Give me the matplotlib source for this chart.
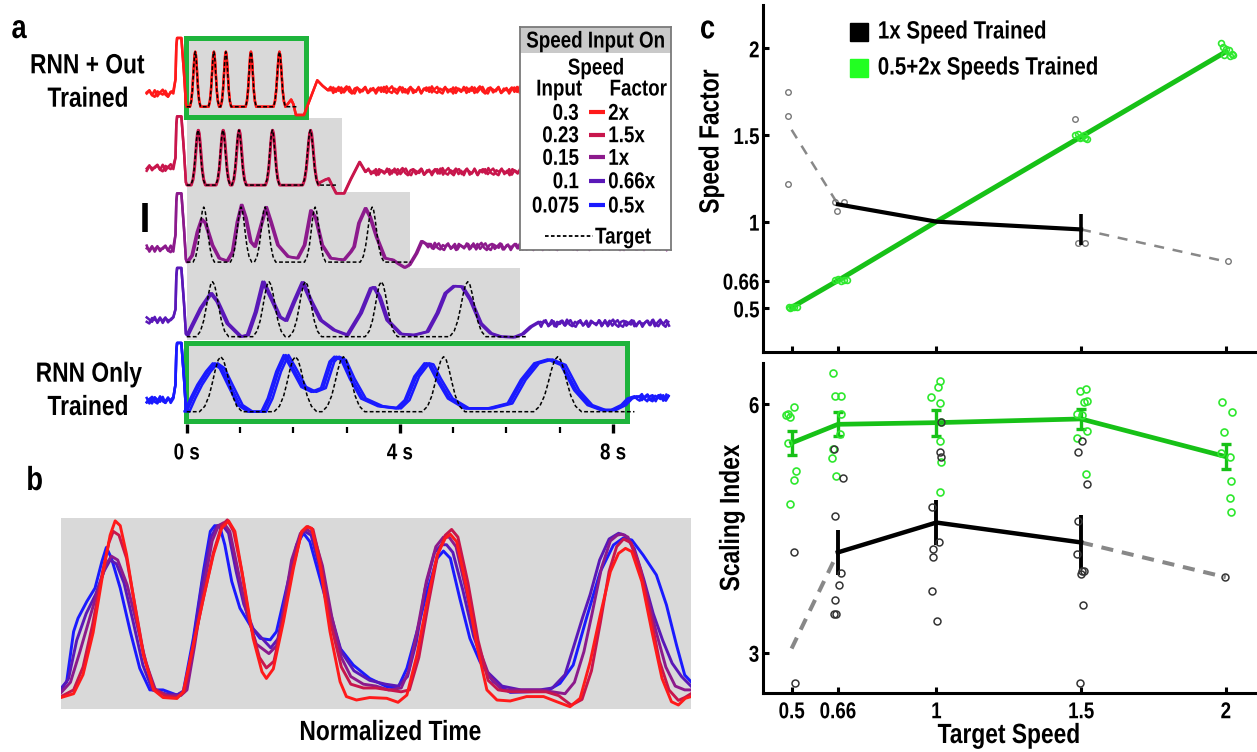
import numpy as np
import matplotlib
matplotlib.use("Agg")
import matplotlib.pyplot as plt
from matplotlib.patches import Rectangle
from matplotlib.patheffects import AbstractPathEffect
from matplotlib.transforms import Affine2D
from matplotlib import font_manager

W, H = 1257, 752

names = {f.name for f in font_manager.fontManager.ttflist}
if "Liberation Sans Narrow" in names:
    FONT, SQUEEZE = "Liberation Sans Narrow", 1.0
else:
    FONT, SQUEEZE = "Liberation Sans", 0.82
plt.rcParams["font.family"] = [FONT, "DejaVu Sans"]
plt.rcParams["font.weight"] = "bold"


class Narrow(AbstractPathEffect):
    """squeeze glyphs horizontally to fake a condensed face"""

    def __init__(self, anchor="center"):
        super().__init__()
        self.anchor = anchor

    def draw_path(self, renderer, gc, tpath, affine, rgbFace=None):
        ext = tpath.get_extents()
        x0 = {"left": ext.x0, "right": ext.x1}.get(self.anchor, (ext.x0 + ext.x1) / 2)
        sq = Affine2D().translate(-x0, 0).scale(SQUEEZE, 1).translate(x0, 0)
        renderer.draw_path(gc, tpath, sq + affine, rgbFace)


def fx(x):
    return x / W


def fy(y):
    return 1 - y / H


# ---------------- panel a data ----------------
speed_factors = [2, 1.5, 1, 0.66, 0.5]
speed_inputs = ["0.3", "0.23", "0.15", "0.1", "0.075"]
factor_labels = ["2x", "1.5x", "1x", "0.66x", "0.5x"]
trace_colors = ["#ff1a1a", "#c8164c", "#8c1a8c", "#5a18b8", "#1a1aff"]
shade_end = [2.23, 2.91, 4.19, 6.25, 8.27]
trial_len_1x = 4.2

# target: peak times (s, at 1x), relative widths and one peak profile
target_peak_t = [0.32, 1.02, 1.47, 2.41, 3.48]
target_peak_w = [1.0, 1.0, 1.0, 1.0, 1.12]
target_shape_dt = [-0.2, -0.15, -0.11, -0.08, -0.05, -0.025, 0.0,
                   0.025, 0.05, 0.08, 0.11, 0.15, 0.2]
target_shape_v = [0.0, 0.1, 0.29, 0.52, 0.775, 0.94, 1.0,
                  0.94, 0.775, 0.52, 0.29, 0.1, 0.0]

# onset transient
spike_t = [-0.21, -0.195, -0.18, -0.1, -0.05, -0.015]
spike_v = [0.5, 1.1, 1.25, 1.25, 0.6, 0.05]

# rows 1-2 follow the target, then this end transient
r1_end_t = [1.88, 1.96, 2.0, 2.05, 2.2, 2.3, 2.45, 2.55, 2.65]
r1_end_v = [0.03, 0.13, 0.05, -0.15, -0.15, 0.1, 0.48, 0.38, 0.3]
r2_end_t = [2.5, 2.6, 2.66, 2.72, 2.8, 2.95, 3.07, 3.24, 3.35]
r2_end_v = [0.05, 0.1, 0.12, 0.0, -0.15, -0.15, 0.1, 0.42, 0.24]

r3_t = [0.0, 0.09, 0.19, 0.27, 0.34, 0.47, 0.6, 0.75, 0.85, 0.94,
        1.02, 1.1, 1.19, 1.27, 1.35, 1.48, 1.57, 1.7, 1.89, 2.07,
        2.2, 2.32, 2.41, 2.53, 2.69, 2.94, 3.07, 3.13, 3.22, 3.345,
        3.43, 3.55, 3.71, 3.86, 3.96, 4.08, 4.17, 4.3, 4.4, 4.48]
r3_v = [0.0, 0.12, 0.55, 0.78, 0.71, 0.31, 0.07, 0.02, 0.19, 0.73,
        1.04, 0.8, 0.37, 0.28, 0.55, 1.0, 0.73, 0.31, 0.1, 0.07,
        0.31, 0.94, 0.8, 0.31, 0.07, 0.04, 0.19, 0.28, 0.71, 0.98,
        0.82, 0.46, 0.07, 0.04, -0.03, -0.1, -0.05, 0.16, 0.38, 0.33]

r4_t = [0.0, 0.09, 0.25, 0.44, 0.56, 0.75, 1.0, 1.13, 1.28, 1.42,
        1.57, 1.73, 1.85, 2.0, 2.16, 2.32, 2.5, 2.75, 3.0, 3.25,
        3.44, 3.5, 3.6, 3.75, 4.0, 4.25, 4.5, 4.69, 4.84, 5.0,
        5.15, 5.31, 5.5, 5.69, 5.88, 6.13, 6.29, 6.44, 6.6]
r4_v = [0.03, 0.21, 0.52, 0.79, 0.64, 0.24, 0.0, 0.03, 0.45, 1.0,
        0.7, 0.36, 0.29, 0.64, 0.99, 0.64, 0.30, 0.12, 0.03, 0.43,
        0.88, 0.9, 0.73, 0.30, 0.05, 0.03, 0.09, 0.43, 0.79, 0.92,
        0.91, 0.67, 0.24, 0.06, 0.0, -0.01, 0.05, 0.18, 0.27]

r5_t = [0.0, 0.11, 0.24, 0.4, 0.53, 0.66, 0.81, 1.0, 1.19, 1.44,
        1.56, 1.72, 1.86, 2.0, 2.19, 2.38, 2.56, 2.72, 2.81, 2.94,
        3.1, 3.31, 3.63, 3.97, 4.13, 4.31, 4.5, 4.58, 4.72, 4.94,
        5.25, 5.69, 6.06, 6.31, 6.56, 6.81, 7.06, 7.31, 7.56, 7.81,
        8.0, 8.19, 8.31, 8.44]
r5_v = [0.0, 0.24, 0.49, 0.73, 0.88, 0.79, 0.49, 0.12, 0.0, 0.0,
        0.24, 0.73, 1.03, 0.79, 0.45, 0.36, 0.43, 0.91, 1.0, 0.94,
        0.6, 0.24, 0.1, 0.06, 0.21, 0.64, 0.88, 0.86, 0.6, 0.24,
        0.06, 0.06, 0.15, 0.58, 0.88, 0.95, 0.85, 0.39, 0.12, 0.03,
        0.03, 0.12, 0.24, 0.28]

pre_level = [0.24, 0.31, 0.24, 0.30, 0.21]
post_level = [0.3, 0.24, 0.28, 0.24, 0.25]
row_lags = [[0.0, 0.0], [0.0, 0.01], [0.0, 0.025], [0.0, 0.035], [-0.04, 0.0, 0.05]]

noise = [0.00, 0.05, -0.03, 0.06, -0.05, 0.02, 0.07, -0.02, -0.06, 0.03,
         0.05, -0.04, 0.01, 0.06, -0.05, -0.01, 0.04, -0.06, 0.02, 0.05,
         -0.03, 0.07, -0.02, -0.05, 0.03, 0.00, 0.06, -0.04, 0.02, -0.06,
         0.05, 0.01, -0.03, 0.06, -0.05, 0.03, -0.01, 0.05, -0.04, 0.02,
         0.06, -0.03, -0.06, 0.04, 0.01, -0.02, 0.05, -0.05, 0.03, 0.00]

# ---------------- panel b data (normalized time) ----------------
b_red_t = [0.0, 0.02, 0.035, 0.051, 0.067, 0.078, 0.086, 0.094, 0.104, 0.117,
           0.131, 0.147, 0.162, 0.184, 0.194, 0.21, 0.226, 0.242, 0.255, 0.266,
           0.276, 0.289, 0.305, 0.319, 0.326, 0.337, 0.353, 0.369, 0.382, 0.39,
           0.398, 0.411, 0.427, 0.443, 0.453, 0.469, 0.49, 0.517, 0.535, 0.549,
           0.565, 0.581, 0.597, 0.61, 0.618, 0.628, 0.644, 0.66, 0.676, 0.692,
           0.713, 0.739, 0.766, 0.787, 0.808, 0.824, 0.84, 0.856, 0.872, 0.885,
           0.896, 0.906, 0.922, 0.938, 0.954, 0.969, 0.98, 0.991, 1.0]
b_red_v = [0.06, 0.08, 0.18, 0.40, 0.72, 0.91, 0.985, 0.96, 0.81, 0.545,
           0.28, 0.10, 0.06, 0.055, 0.09, 0.335, 0.58, 0.81, 0.946, 0.985,
           0.93, 0.685, 0.37, 0.195, 0.16, 0.21, 0.457, 0.737, 0.93, 0.955,
           0.946, 0.755, 0.405, 0.143, 0.065, 0.047, 0.06, 0.056, 0.035, 0.073,
           0.283, 0.562, 0.806, 0.894, 0.915, 0.876, 0.632, 0.335, 0.10, 0.047,
           0.042, 0.065, 0.065, 0.038, 0.012, 0.056, 0.248, 0.492, 0.719, 0.815,
           0.841, 0.824, 0.667, 0.405, 0.16, 0.038, 0.021, 0.056, 0.065]

b_crim_t = [0.0, 0.02, 0.035, 0.05, 0.066, 0.076, 0.083, 0.092, 0.104, 0.117,
            0.131, 0.147, 0.165, 0.184, 0.196, 0.21, 0.226, 0.242, 0.255, 0.264,
            0.274, 0.287, 0.30, 0.315, 0.326, 0.338, 0.352, 0.368, 0.382, 0.392,
            0.40, 0.412, 0.428, 0.445, 0.46, 0.48, 0.50, 0.52, 0.54, 0.553,
            0.568, 0.583, 0.598, 0.61, 0.62, 0.63, 0.646, 0.662, 0.678, 0.694,
            0.715, 0.74, 0.77, 0.79, 0.81, 0.827, 0.842, 0.856, 0.87, 0.882,
            0.893, 0.905, 0.92, 0.935, 0.95, 0.965, 0.98, 0.99, 1.0]
b_crim_v = [0.065, 0.1, 0.22, 0.44, 0.72, 0.87, 0.93, 0.91, 0.79, 0.55,
            0.29, 0.11, 0.07, 0.06, 0.09, 0.33, 0.58, 0.82, 0.96, 0.99,
            0.93, 0.72, 0.45, 0.27, 0.215, 0.25, 0.46, 0.74, 0.925, 0.955,
            0.94, 0.77, 0.45, 0.22, 0.13, 0.11, 0.11, 0.1, 0.09, 0.1,
            0.27, 0.55, 0.81, 0.91, 0.94, 0.9, 0.66, 0.36, 0.15, 0.1,
            0.09, 0.09, 0.09, 0.07, 0.02, 0.05, 0.2, 0.45, 0.72, 0.85,
            0.89, 0.87, 0.73, 0.5, 0.25, 0.1, 0.045, 0.06, 0.08]

b_purp_t = [0.0, 0.015, 0.03, 0.045, 0.06, 0.072, 0.08, 0.09, 0.105, 0.12,
            0.135, 0.15, 0.17, 0.19, 0.2, 0.212, 0.226, 0.24, 0.25, 0.258,
            0.268, 0.28, 0.295, 0.31, 0.33, 0.342, 0.352, 0.366, 0.38, 0.39,
            0.4, 0.415, 0.43, 0.445, 0.46, 0.48, 0.5, 0.52, 0.54, 0.552,
            0.566, 0.58, 0.595, 0.607, 0.616, 0.627, 0.643, 0.66, 0.68, 0.7,
            0.73, 0.76, 0.78, 0.8, 0.815, 0.83, 0.843, 0.858, 0.872, 0.883,
            0.89, 0.9, 0.915, 0.93, 0.945, 0.96, 0.975, 0.99, 1.0]
b_purp_v = [0.085, 0.14, 0.3, 0.47, 0.64, 0.76, 0.8, 0.78, 0.65, 0.45,
            0.24, 0.1, 0.07, 0.07, 0.1, 0.33, 0.63, 0.88, 0.96, 0.975,
            0.93, 0.74, 0.5, 0.34, 0.29, 0.33, 0.5, 0.78, 0.92, 0.94,
            0.92, 0.75, 0.48, 0.27, 0.17, 0.13, 0.12, 0.1, 0.11, 0.2,
            0.42, 0.67, 0.85, 0.9, 0.9, 0.85, 0.62, 0.35, 0.17, 0.1,
            0.1, 0.1, 0.09, 0.08, 0.14, 0.3, 0.5, 0.74, 0.88, 0.91,
            0.915, 0.9, 0.78, 0.6, 0.4, 0.22, 0.12, 0.1, 0.1]

b_viol_t = [0.0, 0.012, 0.025, 0.04, 0.055, 0.068, 0.078, 0.088, 0.1, 0.115,
            0.13, 0.145, 0.165, 0.185, 0.197, 0.21, 0.224, 0.238, 0.248, 0.256,
            0.266, 0.278, 0.29, 0.305, 0.333, 0.345, 0.355, 0.37, 0.38, 0.387,
            0.397, 0.412, 0.428, 0.445, 0.465, 0.49, 0.515, 0.535, 0.55, 0.564,
            0.578, 0.593, 0.604, 0.612, 0.622, 0.638, 0.655, 0.675, 0.7, 0.73,
            0.76, 0.78, 0.8, 0.815, 0.828, 0.84, 0.855, 0.87, 0.885, 0.895,
            0.91, 0.925, 0.94, 0.955, 0.97, 0.985, 1.0]
b_viol_v = [0.1, 0.16, 0.36, 0.5, 0.6, 0.72, 0.78, 0.76, 0.66, 0.45,
            0.23, 0.1, 0.08, 0.075, 0.1, 0.35, 0.66, 0.9, 0.96, 0.965,
            0.92, 0.72, 0.55, 0.42, 0.32, 0.37, 0.52, 0.8, 0.91, 0.93,
            0.91, 0.72, 0.5, 0.3, 0.2, 0.15, 0.13, 0.12, 0.17, 0.35,
            0.63, 0.82, 0.86, 0.86, 0.82, 0.62, 0.38, 0.2, 0.12, 0.1,
            0.1, 0.11, 0.18, 0.34, 0.48, 0.6, 0.78, 0.89, 0.92, 0.91,
            0.84, 0.68, 0.5, 0.36, 0.24, 0.17, 0.12]

b_blue_t = [0.0, 0.009, 0.02, 0.027, 0.041, 0.054, 0.065, 0.072, 0.08, 0.094,
            0.11, 0.125, 0.141, 0.162, 0.184, 0.194, 0.21, 0.226, 0.237, 0.244,
            0.252, 0.26, 0.271, 0.284, 0.30, 0.316, 0.332, 0.342, 0.358, 0.374,
            0.385, 0.395, 0.411, 0.427, 0.443, 0.464, 0.49, 0.517, 0.535, 0.549,
            0.565, 0.581, 0.597, 0.607, 0.618, 0.633, 0.649, 0.665, 0.686, 0.713,
            0.739, 0.771, 0.792, 0.813, 0.834, 0.856, 0.877, 0.892, 0.906, 0.924,
            0.945, 0.961, 0.977, 0.99, 1.0]
b_blue_v = [0.108, 0.143, 0.405, 0.475, 0.563, 0.633, 0.773, 0.846, 0.79, 0.633,
            0.405, 0.213, 0.10, 0.10, 0.073, 0.09, 0.37, 0.72, 0.93, 0.96,
            0.956, 0.86, 0.668, 0.528, 0.44, 0.37, 0.362, 0.405, 0.633, 0.86,
            0.92, 0.876, 0.685, 0.493, 0.318, 0.23, 0.16, 0.117, 0.112, 0.213,
            0.405, 0.614, 0.789, 0.827, 0.789, 0.579, 0.37, 0.248, 0.143, 0.087,
            0.09, 0.094, 0.134, 0.23, 0.475, 0.719, 0.859, 0.894, 0.885, 0.806,
            0.702, 0.545, 0.335, 0.178, 0.143]

# ---------------- panel c data ----------------
target_speeds = [0.5, 0.66, 1, 1.5, 2]
speed_tick_labels = ["0.5", "0.66", "1", "1.5", "2"]

sf_green_mean = [0.505, 0.66, 1.0, 1.49, 1.98]
sf_green_pts_x = [0.49, 0.5, 0.51, 0.52, 0.495,
                  0.65, 0.66, 0.67, 0.68, 0.69,
                  1.48, 1.49, 1.5, 1.51, 1.52, 1.495, 1.515,
                  1.985, 1.99, 2.0, 2.01, 2.02, 2.015, 1.995, 2.025]
sf_green_pts_y = [0.505, 0.51, 0.505, 0.51, 0.5,
                  0.665, 0.67, 0.66, 0.665, 0.665,
                  1.5, 1.505, 1.49, 1.5, 1.475, 1.48, 1.485,
                  2.03, 2.01, 1.995, 1.99, 1.97, 1.955, 1.96, 1.96]
sf_black_x = [0.66, 1, 1.5]
sf_black_mean = [1.10, 1.0, 0.955]
sf_black_err = [0.0, 0.0, 0.09]
sf_extrap_lo = ([0.5, 0.66], [1.53, 1.10])
sf_extrap_hi = ([1.5, 2.0], [0.955, 0.77])
sf_gray_pts_x = [0.486, 0.488, 0.486, 0.65, 0.68, 0.658, 1.478, 1.49, 1.515, 2.006]
sf_gray_pts_y = [1.75, 1.61, 1.22, 1.115, 1.115, 1.063, 1.59, 0.879, 0.879, 0.77]

si_green_mean = [5.53, 5.755, 5.775, 5.82, 5.365]
si_green_err = [0.15, 0.145, 0.155, 0.125, 0.155]
si_black_x = [0.66, 1, 1.5]
si_black_mean = [4.21, 4.57, 4.33]
si_black_err = [0.27, 0.275, 0.325]
si_extrap_lo = ([0.5, 0.66], [3.05, 4.21])
si_extrap_hi = ([1.5, 2.0], [4.33, 3.91])
si_green_pts_x = [0.479, 0.488, 0.495, 0.51, 0.489, 0.516, 0.507, 0.496,
                  0.644, 0.649, 0.669, 0.638, 0.644, 0.654, 0.67, 0.666,
                  1.011, 1.007, 0.983, 1.011, 1.017, 1.014, 1.017, 1.011,
                  1.496, 1.518, 1.51, 1.522, 1.485, 1.504, 1.52, 1.485, 1.518,
                  1.987, 2.02, 1.993, 1.985, 2.013, 2.018, 2.015, 2.018]
si_green_pts_y = [5.87, 5.88, 5.84, 5.96, 5.53, 5.19, 5.08, 4.79,
                  6.37, 6.10, 6.10, 5.35, 5.46, 5.13, 5.88, 5.64,
                  6.28, 6.21, 6.08, 6.01, 5.78, 5.55, 5.30, 4.94,
                  6.16, 6.18, 6.03, 6.04, 5.88, 5.87, 5.67, 5.59, 5.16,
                  6.02, 5.90, 5.66, 5.41, 5.36, 5.07, 4.87, 4.70]
si_black_pts_x = [0.509, 0.512,
                  0.645, 0.677, 0.649, 0.67, 0.664, 0.651, 0.648, 0.654,
                  1.017, 1.014, 1.017, 0.985, 1.009, 0.989, 0.99, 0.986, 1.002,
                  1.504, 1.491, 1.52, 1.488, 1.485, 1.504, 1.51, 1.5, 1.506, 1.495,
                  1.996]
si_black_pts_y = [4.21, 2.63,
                  5.46, 5.11, 4.65, 3.96, 3.82, 3.64, 3.47, 3.47,
                  5.78, 5.42, 5.36, 4.76, 4.33, 4.25, 4.15, 3.74, 3.38,
                  5.55, 5.42, 5.04, 4.59, 4.19, 3.98, 3.98, 3.95, 3.57, 2.64,
                  3.91]

GREEN = "#17c117"
LIME = "#2ee82e"
BOXGREEN = "#1eb43c"
SHADE = "#d9d9d9"


def target_curve(s):
    ts, vs = [0.0], [0.0]
    for pt, w in zip(target_peak_t, target_peak_w):
        ts += [(pt + d * w) / s for d in target_shape_dt]
        vs += target_shape_v
    ts.append(trial_len_1x / s)
    vs.append(0.0)
    return np.array(ts), np.array(vs)


def build_trace(i, trial_t, trial_v, lag, k):
    pre_t = np.arange(-0.75, -0.22, 0.05)
    pre_v = pre_level[i] + np.resize(np.roll(noise, 3 * i + k * 11), pre_t.size)
    post_start = trial_t[-1] + 0.05 + lag
    post_t = np.arange(post_start, 9.05, 0.05)
    post_v = post_level[i] + np.resize(np.roll(noise, 7 * i + k * 17), post_t.size)
    t = np.concatenate([pre_t, spike_t, np.asarray(trial_t) + lag, post_t])
    v = np.concatenate([pre_v, spike_v, trial_v, post_v])
    return t, v


def label(target, x, y, s, ha="center", va="center", size=16.5, **kw):
    t = target.text(x, y, s, ha=ha, va=va, fontsize=size, **kw)
    t.set_path_effects([Narrow(anchor=ha)])
    return t


fig = plt.figure(figsize=(W / 100, H / 100), dpi=100)

# ================= panel a =================
row_base = [5.545, 4.12, 2.72, 1.364, 0.0]
shade_band = [(5.35, 6.80), (3.995, 5.34), (2.613, 3.995), (1.304, 2.613), (-0.165, 1.258)]

axa = fig.add_axes([fx(133.4), fy(433), (703.7 - 133.4) / W, (433 - 20) / H])
axa.set_xlim(-1.0, 9.7)
axa.set_ylim(-0.3873, 7.1218)
for sp in axa.spines.values():
    sp.set_visible(False)
axa.set_yticks([])
axa.set_xticks([0, 4, 8])
axa.set_xticklabels(["0 s", "4 s", "8 s"])
axa.set_xticks([1, 2, 3, 5, 6, 7], minor=True)
axa.tick_params(axis="x", which="major", direction="in", length=6.5, width=2.4,
                pad=6, labelsize=16.5)
axa.tick_params(axis="x", which="minor", direction="in", length=4.5, width=1.6)

for i in range(5):
    lo, hi = shade_band[i]
    if i in (0, 4):
        axa.add_patch(Rectangle((-0.017, lo), shade_end[i] + 0.017, hi - lo,
                                facecolor=SHADE, edgecolor=BOXGREEN, lw=3.6, zorder=1))
    else:
        axa.add_patch(Rectangle((0, lo), shade_end[i], hi - lo,
                                facecolor=SHADE, edgecolor="none", zorder=0.5))

row_trials = [None, None, (r3_t, r3_v), (r4_t, r4_v), (r5_t, r5_v)]
row_ends = [(r1_end_t, r1_end_v), (r2_end_t, r2_end_v)]
for i, s in enumerate(speed_factors):
    tt, tv = target_curve(s)
    if i < 2:
        trial_t = list(tt[:-1]) + row_ends[i][0]
        trial_v = list(tv[:-1]) + row_ends[i][1]
    else:
        trial_t, trial_v = row_trials[i]
    for k, lag in enumerate(row_lags[i]):
        t, v = build_trace(i, trial_t, trial_v, lag, k)
        axa.plot(t, v + row_base[i], color=trace_colors[i], lw=1.8, zorder=3,
                 solid_joinstyle="round")
    axa.plot(tt, tv + row_base[i], color="k", lw=1.1, ls=(0, (2.5, 1.5)), zorder=4)

# scale bar
axa.plot([-0.78, -0.78], [3.27, 3.79], color="k", lw=4, solid_capstyle="butt")

label(fig, fx(87), fy(73.3), "RNN + Out", va="baseline", size=20)
label(fig, fx(88), fy(106.7), "Trained", va="baseline", size=20)
label(fig, fx(88.5), fy(381.7), "RNN Only", va="baseline", size=20)
label(fig, fx(88), fy(415), "Trained", va="baseline", size=20)

# legend box of panel a
axl = fig.add_axes([fx(520), fy(250), 151 / W, 223 / H])
axl.set_xlim(520, 671)
axl.set_ylim(250, 27)
axl.set_xticks([])
axl.set_yticks([])
for sp in axl.spines.values():
    sp.set_color("#7a7a7a")
    sp.set_linewidth(1.3)
axl.add_patch(Rectangle((520, 27), 151, 26, facecolor="#c9c9c9", edgecolor="none"))
label(axl, 595.5, 41, "Speed Input On")
label(axl, 596, 68, "Speed")
label(axl, 559, 89, "Input")
label(axl, 638, 89, "Factor")
leg_rows_y = [113.3, 135.7, 158.3, 181.7, 206]
for y, inp, fac, c in zip(leg_rows_y, speed_inputs, factor_labels, trace_colors):
    label(axl, 579, y, inp, ha="right")
    axl.plot([589, 605], [y - 1, y - 1], color=c, lw=3, solid_capstyle="butt")
    label(axl, 608, y, fac, ha="left")
axl.plot([545, 593], [236, 236], color="k", lw=1.3, ls=(0, (2, 1.3)))
label(axl, 595, 237, "Target", ha="left")

# ================= panel b =================
axb = fig.add_axes([fx(61), fy(709), 630 / W, 191 / H])
axb.set_facecolor(SHADE)
axb.set_xlim(0, 1)
axb.set_ylim(0, 1)
axb.set_xticks([])
axb.set_yticks([])
for sp in axb.spines.values():
    sp.set_visible(False)
b_curves = [(b_blue_t, b_blue_v), (b_viol_t, b_viol_v), (b_purp_t, b_purp_v),
            (b_crim_t, b_crim_v), (b_red_t, b_red_v)]
for (t, v), c in zip(b_curves, trace_colors[::-1]):
    axb.plot(t, v, color=c, lw=2.1, solid_joinstyle="round")
label(fig, fx(390), fy(733), "Normalized Time", size=20)

# ================= panel c (top) =================
axc1 = fig.add_axes([fx(763), fy(352), 1 - fx(763), (352 - 5) / H])
axc1.set_xlim(0.4012, 2.1078)
axc1.set_ylim(0.2478, 2.250)
axc1.plot(*sf_extrap_lo, color="#888888", lw=1.8, ls=(0, (4, 3.5)), zorder=2)
axc1.plot(*sf_extrap_hi, color="#888888", lw=1.8, ls=(0, (4, 3.5)), zorder=2)
axc1.plot(sf_gray_pts_x, sf_gray_pts_y, "o", ms=4, mfc="none", mec="#777777", mew=1.0, zorder=3)
axc1.plot(target_speeds, sf_green_mean, color=GREEN, lw=3.6, zorder=4)
axc1.plot(sf_green_pts_x, sf_green_pts_y, "o", ms=4.2, mfc="none", mec=LIME, mew=1.2, zorder=5)
axc1.plot(sf_black_x, sf_black_mean, color="k", lw=3, zorder=6)
axc1.errorbar(sf_black_x, sf_black_mean, yerr=sf_black_err, fmt="none", ecolor="k",
              elinewidth=2.6, capsize=0, zorder=6)
axc1.set_xticks(target_speeds)
axc1.set_xticklabels([])
axc1.set_yticks([0.5, 0.66, 1, 1.5, 2])
axc1.set_yticklabels(["0.5", "0.66", "1", "1.5", "2"])
label(fig, fx(711.5), fy(141.5), "Speed Factor", rotation=90, size=20)

# legend of panel c
axc1.plot([fx(859)], [fy(31.7)], "s", ms=13.5, color="k", transform=fig.transFigure, clip_on=False)
axc1.plot([fx(859)], [fy(68)], "s", ms=13.5, color="#22ff22", transform=fig.transFigure, clip_on=False)
label(fig, fx(877.6), fy(31.5), "1x Speed Trained", ha="left", size=18)
label(fig, fx(877.6), fy(67.5), "0.5+2x Speeds Trained", ha="left", size=18)

# ================= panel c (bottom) =================
axc2 = fig.add_axes([fx(763), fy(693.3), 1 - fx(763), (693.3 - 363.3) / H])
axc2.set_xlim(0.4012, 2.1078)
axc2.set_ylim(2.510, 6.491)
axc2.plot(*si_extrap_lo, color="#888888", lw=2.9, ls=(0, (3, 2.2)), zorder=2)
axc2.plot(*si_extrap_hi, color="#888888", lw=2.9, ls=(0, (3, 2.2)), zorder=2)
axc2.plot(target_speeds, si_green_mean, color=GREEN, lw=3.4, zorder=3)
axc2.errorbar(target_speeds, si_green_mean, yerr=si_green_err, fmt="none", ecolor=GREEN,
              elinewidth=2.4, capsize=3.5, capthick=2.4, zorder=3)
axc2.plot(si_black_x, si_black_mean, color="k", lw=3.2, zorder=4)
axc2.errorbar(si_black_x, si_black_mean, yerr=si_black_err, fmt="none", ecolor="k",
              elinewidth=2.8, capsize=0, zorder=4)
axc2.plot(si_green_pts_x, si_green_pts_y, "o", ms=5, mfc="none", mec=LIME, mew=1.2, zorder=5)
axc2.plot(si_black_pts_x, si_black_pts_y, "o", ms=5, mfc="none", mec="#333333", mew=1.1, zorder=5)
axc2.set_xticks(target_speeds)
axc2.set_xticklabels(speed_tick_labels)
axc2.set_yticks([3, 6])
label(fig, fx(732), fy(518), "Scaling Index", rotation=90, size=20)
label(fig, fx(1009), fy(736), "Target Speed", size=20)

for ax in (axc1, axc2):
    ax.spines["top"].set_visible(False)
    ax.spines["right"].set_visible(False)
    ax.spines["left"].set_linewidth(2.2)
    ax.spines["bottom"].set_linewidth(2.2)
    ax.tick_params(direction="in", length=4.5, width=2.2, labelsize=16.5)
    ax.tick_params(axis="y", pad=2.5)
    ax.tick_params(axis="x", pad=5)

for ax in (axa, axc1, axc2):
    for lbl in ax.get_xticklabels():
        lbl.set_path_effects([Narrow("center")])
    for lbl in ax.get_yticklabels():
        lbl.set_path_effects([Narrow("right")])

# panel letters
label(fig, fx(19), fy(38), "a", va="baseline", size=24)
label(fig, fx(34.6), fy(490), "b", va="baseline", size=24)
label(fig, fx(707.5), fy(38.3), "c", va="baseline", size=24)

fig.savefig("out.png", dpi=100)
